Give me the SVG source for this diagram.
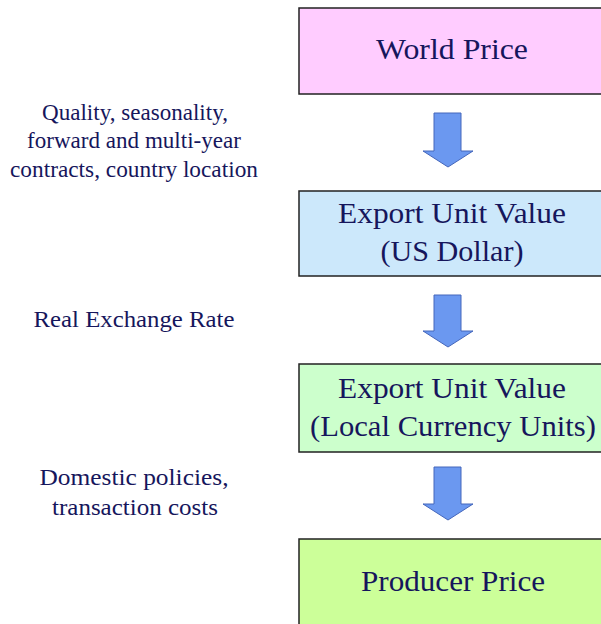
<svg xmlns="http://www.w3.org/2000/svg" width="601" height="624" viewBox="0 0 601 624">
<style>
.box{stroke:#222;stroke-width:1.5}
.t{font-family:"Liberation Serif","DejaVu Serif",serif;fill:#16165c;text-anchor:middle}
.big{font-size:30px}
.lbl{font-size:22.5px}
.arr{fill:#6b98f0;stroke:#4466bb;stroke-width:1}
</style>
<rect width="601" height="624" fill="#fff"/>
<g id="world-price">
<rect class="box" x="299" y="8" width="310" height="86" fill="#ffccff"/>
<text class="t big" x="452" y="59" textLength="152" lengthAdjust="spacingAndGlyphs">World Price</text>
</g>
<g id="eu-usd">
<rect class="box" x="299" y="191" width="310" height="85" fill="#cce8fb"/>
<text class="t big" x="452" y="223" textLength="228" lengthAdjust="spacingAndGlyphs">Export Unit Value</text>
<text class="t big" x="452" y="261" textLength="143" lengthAdjust="spacingAndGlyphs">(US Dollar)</text>
</g>
<g id="eu-lcu">
<rect class="box" x="299" y="364" width="310" height="88" fill="#ccffcc"/>
<text class="t big" x="452" y="398" textLength="228" lengthAdjust="spacingAndGlyphs">Export Unit Value</text>
<text class="t big" x="453" y="436" textLength="286" lengthAdjust="spacingAndGlyphs">(Local Currency Units)</text>
</g>
<g id="producer-price">
<rect class="box" x="299" y="539" width="310" height="100" fill="#ccff99"/>
<text class="t big" x="453" y="591" textLength="184" lengthAdjust="spacingAndGlyphs">Producer Price</text>
</g>
<g id="label-quality">
<text class="t lbl" x="135" y="120" textLength="186" lengthAdjust="spacingAndGlyphs">Quality, seasonality,</text>
<text class="t lbl" x="134" y="148" textLength="214" lengthAdjust="spacingAndGlyphs">forward and multi-year</text>
<text class="t lbl" x="134" y="177" textLength="248" lengthAdjust="spacingAndGlyphs">contracts, country location</text>
</g>
<g id="label-rer">
<text class="t lbl" x="134" y="327" textLength="201" lengthAdjust="spacingAndGlyphs">Real Exchange Rate</text>
</g>
<g id="label-domestic">
<text class="t lbl" x="134" y="485" textLength="189" lengthAdjust="spacingAndGlyphs">Domestic policies,</text>
<text class="t lbl" x="135" y="515" textLength="166" lengthAdjust="spacingAndGlyphs">transaction costs</text>
</g>
<g id="connectors">
<path class="arr" d="M434,113 H461 V151 H473 L448,167 L423,151 H434 Z"/>
<path class="arr" d="M434,295 H461 V331 H473 L448,347 L423,331 H434 Z"/>
<path class="arr" d="M434,467 H461 V504 H473 L448,520 L423,504 H434 Z"/>
</g>
</svg>
